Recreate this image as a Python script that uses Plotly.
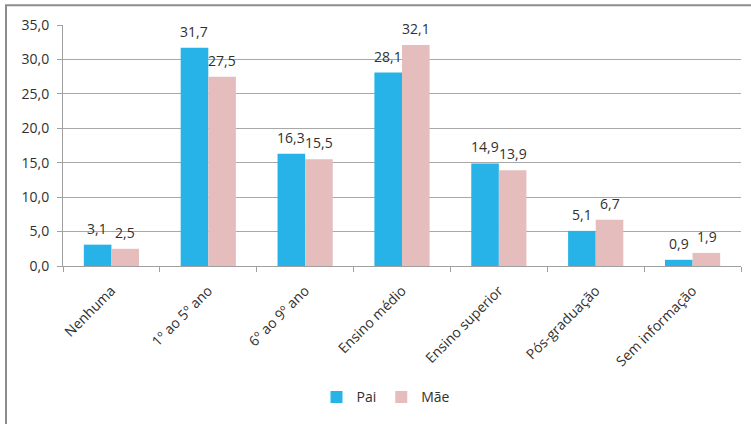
import plotly.graph_objects as go

categories = ["Nenhuma", "1º ao 5º ano", "6º ao 9º ano", "Ensino médio",
              "Ensino superior", "Pós-graduação", "Sem informação"]
pai = [3.1, 31.7, 16.3, 28.1, 14.9, 5.1, 0.9]
mae = [2.5, 27.5, 15.5, 32.1, 13.9, 6.7, 1.9]
y_ticks = [0, 5, 10, 15, 20, 25, 30, 35]

W, H = 751, 424
ML, MR, MT, MB = 63, 10, 25, 155
PW, PH = W - ML - MR, H - MT - MB

FONT = "Open Sans"
TXT = "#303030"
fig = go.Figure()
fig.add_trace(go.Bar(name="Pai", x=categories, y=pai, marker_color="#27B3E7",
                     marker_line_width=0))
fig.add_trace(go.Bar(name="Mãe", x=categories, y=mae, marker_color="#E6BDBD",
                     marker_line_width=0))

annotations = []
for series, shift in ((pai, -14), (mae, 14)):
    for c, v in zip(categories, series):
        annotations.append(dict(x=c, y=v, xref="x", yref="y",
                                text=f"{v:.1f}".replace(".", ","),
                                showarrow=False, yanchor="bottom",
                                xshift=shift, yshift=5,
                                font=dict(family=FONT, size=14, color=TXT)))

def px_x(p):
    return (p - ML) / PW

def px_y(p):
    return (H - MB - p) / PH

shapes = [
    dict(type="line", xref="paper", yref="paper",
         x0=px_x(6), y0=px_y(430), x1=px_x(6), y1=px_y(5),
         line=dict(color="#8c8c8c", width=2)),
    dict(type="line", xref="paper", yref="paper",
         x0=px_x(5), y0=px_y(5), x1=px_x(760), y1=px_y(5),
         line=dict(color="#8c8c8c", width=2)),
]

fig.update_layout(
    width=W, height=H,
    margin=dict(l=ML, r=MR, t=MT, b=MB, pad=0),
    paper_bgcolor="white", plot_bgcolor="white",
    barmode="group", bargap=0.43, bargroupgap=0,
    separators=",.",
    font=dict(family=FONT, size=14, color=TXT),
    showlegend=True,
    legend=dict(orientation="h", x=px_x(386), xanchor="center", y=px_y(402),
                yanchor="middle", font=dict(family=FONT, size=14, color=TXT),
                itemwidth=30, traceorder="normal"),
    annotations=annotations,
    shapes=shapes,
)
fig.update_xaxes(showline=True, linecolor="#a0a0a0", linewidth=1,
                 ticks="outside", tickson="boundaries", ticklen=5,
                 tickcolor="#a0a0a0", tickangle=-45, ticklabelstandoff=10,
                 tickfont=dict(family=FONT, size=14, color=TXT),
                 showgrid=False)
fig.update_yaxes(range=[0, 35], tickvals=y_ticks, tickformat=".1f",
                 showline=True, linecolor="#a0a0a0", linewidth=1,
                 ticks="outside", ticklen=5, tickcolor="#a0a0a0",
                 ticklabelstandoff=5,
                 showgrid=True, gridcolor="#a8a8a8", gridwidth=1,
                 zeroline=False,
                 tickfont=dict(family=FONT, size=14, color=TXT))

fig.write_html("out.html")
